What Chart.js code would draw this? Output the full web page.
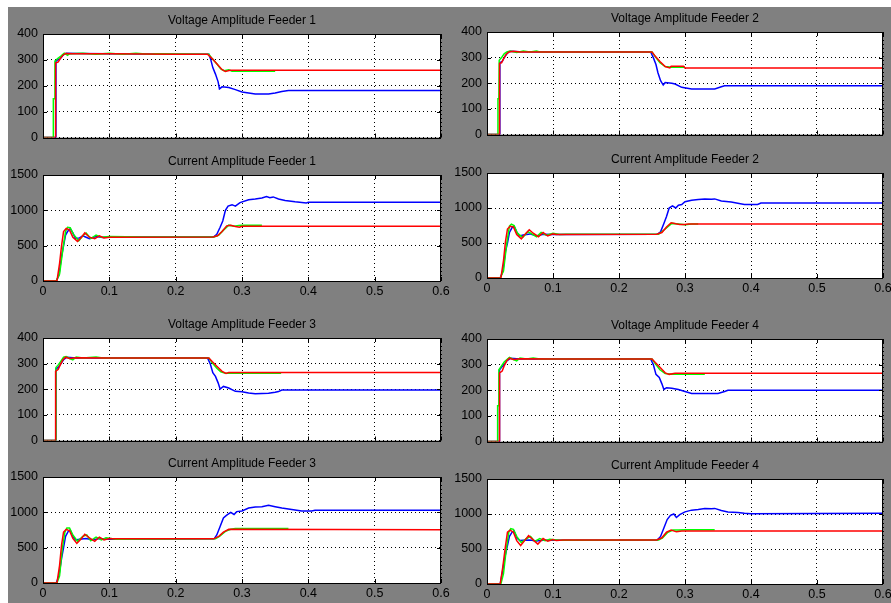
<!DOCTYPE html>
<html>
<head>
<meta charset="utf-8">
<script src="https://cdn.jsdelivr.net/npm/chart.js@4.4.1/dist/chart.umd.min.js"></script>
<style>
html, body { margin: 0; padding: 0; background: #fff; overflow: hidden; }
#bg { position: absolute; left: 8px; top: 7px; width: 883px; height: 596px; background: #808080; }
canvas { position: absolute; }
</style>
</head>
<body>
<div id="bg"></div>
<script>
// Time [s] / amplitude pairs
const v1Blue = [[0,0],[0.019,0],[0.0195,295],[0.022,300],[0.026,305],[0.03,318],[0.035,326],[0.05,325],[0.1,324],[0.15,323],[0.2,322],[0.25,322],[0.253,300],[0.256,270],[0.26,245],[0.264,215],[0.266,188],[0.27,196],[0.28,193],[0.29,185],[0.3,176],[0.31,172],[0.32,168],[0.34,168],[0.35,172],[0.36,178],[0.37,182],[0.6,182]];
const v1Green = [[0,0],[0.0155,0],[0.0156,150],[0.0175,150],[0.018,295],[0.022,305],[0.027,315],[0.032,326],[0.037,318],[0.04,324],[0.06,326],[0.08,322],[0.1,326],[0.12,322],[0.14,326],[0.16,322],[0.17,324],[0.25,322],[0.255,305],[0.262,285],[0.268,265],[0.273,258],[0.28,262],[0.285,256],[0.3,256],[0.35,256]];
const v1Red = [[0,0],[0.0185,0],[0.019,288],[0.023,292],[0.026,305],[0.03,318],[0.034,325],[0.045,324],[0.1,324],[0.2,322],[0.248,322],[0.255,305],[0.262,285],[0.27,262],[0.275,255],[0.282,260],[0.6,260]];

const c1Blue = [[0,0],[0.02,0],[0.024,80],[0.028,350],[0.031,500],[0.034,650],[0.037,700],[0.041,740],[0.045,680],[0.049,600],[0.055,610],[0.06,640],[0.065,620],[0.07,600],[0.08,630],[0.09,615],[0.1,625],[0.15,622],[0.257,622],[0.262,660],[0.267,760],[0.271,850],[0.275,1000],[0.279,1060],[0.285,1080],[0.29,1060],[0.297,1110],[0.31,1150],[0.32,1160],[0.33,1175],[0.337,1195],[0.342,1180],[0.347,1190],[0.355,1160],[0.365,1140],[0.38,1120],[0.397,1105],[0.4,1115],[0.6,1115]];
const c1Green = [[0,0],[0.02,0],[0.025,100],[0.03,450],[0.034,700],[0.037,760],[0.041,755],[0.046,660],[0.054,570],[0.06,640],[0.065,680],[0.072,600],[0.08,650],[0.088,620],[0.1,630],[0.15,622],[0.258,622],[0.265,650],[0.272,720],[0.28,790],[0.288,775],[0.295,785],[0.3,790],[0.33,790]];
const c1Red = [[0,0],[0.021,0],[0.025,250],[0.028,500],[0.031,700],[0.035,745],[0.04,720],[0.045,620],[0.052,560],[0.058,620],[0.063,680],[0.07,620],[0.078,600],[0.085,640],[0.092,610],[0.1,620],[0.256,622],[0.263,640],[0.27,700],[0.277,780],[0.283,790],[0.29,770],[0.296,760],[0.3,775],[0.6,775]];

const v2Blue = [[0,0],[0.019,0],[0.0195,280],[0.023,285],[0.026,300],[0.03,315],[0.035,325],[0.05,323],[0.1,322],[0.248,322],[0.252,300],[0.256,273],[0.259,241],[0.263,210],[0.267,193],[0.27,203],[0.28,200],[0.285,197],[0.295,184],[0.31,178],[0.345,178],[0.355,186],[0.36,190],[0.6,190]];
const v2Green = [[0,0],[0.0165,0],[0.0166,140],[0.018,140],[0.0185,290],[0.022,300],[0.026,315],[0.03,322],[0.035,326],[0.045,320],[0.055,326],[0.065,322],[0.075,326],[0.08,322],[0.25,322],[0.256,300],[0.262,280],[0.27,265],[0.28,262],[0.3,262]];
const v2Red = [[0,0],[0.0185,0],[0.019,278],[0.022,280],[0.025,295],[0.029,312],[0.033,322],[0.04,325],[0.05,322],[0.25,322],[0.255,305],[0.262,285],[0.27,265],[0.277,260],[0.279,266],[0.298,266],[0.3,260],[0.6,260]];

const c2Blue = [[0,0],[0.02,0],[0.024,100],[0.028,380],[0.031,500],[0.034,650],[0.038,720],[0.041,740],[0.045,660],[0.049,600],[0.055,615],[0.065,630],[0.075,600],[0.085,625],[0.1,620],[0.258,625],[0.263,660],[0.268,780],[0.272,880],[0.276,1000],[0.281,1030],[0.286,1000],[0.29,1040],[0.295,1050],[0.3,1090],[0.31,1110],[0.32,1120],[0.33,1130],[0.34,1125],[0.345,1130],[0.355,1100],[0.37,1085],[0.39,1050],[0.41,1050],[0.415,1070],[0.6,1070]];
const c2Green = [[0,0],[0.02,0],[0.025,100],[0.03,500],[0.034,740],[0.037,770],[0.041,750],[0.046,640],[0.054,580],[0.062,660],[0.068,630],[0.075,590],[0.082,650],[0.09,610],[0.1,640],[0.11,620],[0.12,625],[0.26,625],[0.27,700],[0.28,780],[0.29,770],[0.3,760],[0.31,770],[0.32,770]];
const c2Red = [[0,0],[0.021,0],[0.025,250],[0.028,520],[0.031,700],[0.035,740],[0.04,730],[0.045,620],[0.052,560],[0.058,630],[0.064,690],[0.07,640],[0.078,590],[0.085,650],[0.092,600],[0.1,630],[0.105,620],[0.257,625],[0.265,650],[0.272,730],[0.279,790],[0.286,775],[0.292,765],[0.3,765],[0.305,770],[0.6,770]];

const v3Blue = [[0,0],[0.019,0],[0.0195,280],[0.023,285],[0.027,300],[0.031,315],[0.036,325],[0.05,322],[0.1,322],[0.248,322],[0.252,300],[0.256,265],[0.26,250],[0.264,225],[0.267,201],[0.272,211],[0.28,205],[0.29,192],[0.3,190],[0.31,185],[0.32,182],[0.34,184],[0.35,188],[0.355,191],[0.36,197],[0.6,197]];
const v3Green = [[0,0],[0.019,0],[0.0195,285],[0.023,295],[0.027,310],[0.031,325],[0.035,328],[0.04,320],[0.045,315],[0.05,326],[0.06,322],[0.08,326],[0.09,322],[0.25,322],[0.256,300],[0.262,282],[0.268,268],[0.275,262],[0.3,262],[0.359,262]];
const v3Red = [[0,0],[0.0185,0],[0.019,270],[0.023,278],[0.026,295],[0.03,315],[0.034,325],[0.04,320],[0.05,323],[0.1,322],[0.25,322],[0.255,308],[0.262,290],[0.27,270],[0.276,262],[0.28,265],[0.6,265]];

const c3Blue = [[0,0],[0.02,0],[0.024,100],[0.028,350],[0.031,500],[0.034,660],[0.038,730],[0.041,750],[0.045,660],[0.049,610],[0.055,620],[0.065,630],[0.075,610],[0.085,630],[0.1,620],[0.258,625],[0.262,680],[0.267,800],[0.272,920],[0.277,960],[0.283,1000],[0.288,970],[0.292,1010],[0.3,1020],[0.31,1060],[0.32,1075],[0.33,1080],[0.34,1100],[0.35,1080],[0.36,1060],[0.375,1040],[0.39,1020],[0.405,1020],[0.41,1030],[0.6,1030]];
const c3Green = [[0,0],[0.021,0],[0.025,100],[0.029,480],[0.033,720],[0.036,780],[0.04,780],[0.045,680],[0.052,590],[0.06,660],[0.066,680],[0.072,600],[0.08,650],[0.088,610],[0.095,640],[0.11,620],[0.26,625],[0.266,660],[0.275,730],[0.283,760],[0.29,770],[0.3,770],[0.37,770]];
const c3Red = [[0,0],[0.021,0],[0.025,250],[0.028,540],[0.031,720],[0.035,760],[0.04,740],[0.045,630],[0.051,560],[0.057,620],[0.063,690],[0.07,640],[0.078,590],[0.085,650],[0.092,610],[0.1,630],[0.105,625],[0.257,625],[0.265,660],[0.272,720],[0.28,760],[0.6,755]];

const v4Blue = [[0,0],[0.0185,0],[0.019,280],[0.022,290],[0.026,300],[0.03,315],[0.036,325],[0.05,322],[0.1,322],[0.248,322],[0.252,300],[0.256,262],[0.261,250],[0.265,225],[0.268,203],[0.272,210],[0.28,208],[0.29,203],[0.3,195],[0.31,187],[0.35,187],[0.36,195],[0.365,200],[0.6,200]];
const v4Green = [[0,0],[0.016,0],[0.0161,140],[0.0175,140],[0.018,280],[0.022,295],[0.026,310],[0.031,322],[0.034,328],[0.04,320],[0.045,315],[0.05,326],[0.06,322],[0.07,326],[0.08,322],[0.25,322],[0.256,300],[0.262,280],[0.27,265],[0.28,262],[0.33,262]];
const v4Red = [[0,0],[0.0185,0],[0.019,268],[0.023,275],[0.026,295],[0.03,315],[0.034,325],[0.04,320],[0.05,323],[0.1,322],[0.25,322],[0.255,308],[0.262,290],[0.27,268],[0.276,262],[0.285,266],[0.6,266]];

const c4Blue = [[0,0],[0.02,0],[0.023,150],[0.027,380],[0.031,550],[0.034,680],[0.038,740],[0.041,760],[0.045,660],[0.05,620],[0.055,625],[0.065,630],[0.075,615],[0.085,625],[0.1,625],[0.258,628],[0.263,680],[0.268,800],[0.273,920],[0.278,980],[0.283,1000],[0.287,950],[0.292,990],[0.3,1030],[0.31,1055],[0.32,1065],[0.33,1078],[0.34,1075],[0.345,1080],[0.355,1050],[0.365,1030],[0.38,1020],[0.39,1010],[0.4,1005],[0.6,1010]];
const c4Green = [[0,0],[0.021,0],[0.025,150],[0.029,480],[0.033,740],[0.036,790],[0.04,780],[0.045,680],[0.052,590],[0.06,650],[0.066,680],[0.072,610],[0.08,650],[0.088,620],[0.095,640],[0.11,625],[0.26,628],[0.266,660],[0.274,740],[0.282,770],[0.29,770],[0.3,776],[0.345,776]];
const c4Red = [[0,0],[0.02,0],[0.024,250],[0.028,540],[0.031,740],[0.035,770],[0.04,740],[0.045,620],[0.051,550],[0.057,620],[0.063,690],[0.07,630],[0.077,570],[0.085,650],[0.092,610],[0.1,635],[0.105,620],[0.115,628],[0.257,628],[0.265,660],[0.272,740],[0.279,770],[0.287,745],[0.295,757],[0.6,757]];

// Panels: plot box = [left, top, right, bottom] in page pixels
const panels = [
    { title: 'Voltage Amplitude Feeder 1', box: [43, 34, 441, 140], yMax: 400, yStep: 100, xLabels: false, blue: v1Blue, green: v1Green, red: v1Red },
    { title: 'Current Amplitude Feeder 1', box: [43, 175, 441, 281], yMax: 1500, yStep: 500, xLabels: true, blue: c1Blue, green: c1Green, red: c1Red },
    { title: 'Voltage Amplitude Feeder 2', box: [487, 32, 883, 137], yMax: 400, yStep: 100, xLabels: false, blue: v2Blue, green: v2Green, red: v2Red },
    { title: 'Current Amplitude Feeder 2', box: [487, 173, 883, 278], yMax: 1500, yStep: 500, xLabels: true, blue: c2Blue, green: c2Green, red: c2Red },
    { title: 'Voltage Amplitude Feeder 3', box: [43, 338, 441, 443], yMax: 400, yStep: 100, xLabels: false, blue: v3Blue, green: v3Green, red: v3Red },
    { title: 'Current Amplitude Feeder 3', box: [43, 477, 441, 583], yMax: 1500, yStep: 500, xLabels: true, blue: c3Blue, green: c3Green, red: c3Red },
    { title: 'Voltage Amplitude Feeder 4', box: [487, 339, 883, 444], yMax: 400, yStep: 100, xLabels: false, blue: v4Blue, green: v4Green, red: v4Red },
    { title: 'Current Amplitude Feeder 4', box: [487, 479, 883, 584], yMax: 1500, yStep: 500, xLabels: true, blue: c4Blue, green: c4Green, red: c4Red }
];

Chart.defaults.font.family = '"Liberation Sans", Arial, sans-serif';
Chart.defaults.color = '#000';

// White plot area, frame, inward ticks and title drawn like a scope axes
const scopeFrame = {
    id: 'scopeFrame',
    beforeDraw(chart) {
        const ctx = chart.ctx;
        const a = chart.chartArea;
        ctx.save();
        ctx.fillStyle = '#fff';
        ctx.fillRect(a.left, a.top, a.right - a.left, a.bottom - a.top);
        ctx.restore();
    },
    afterDraw(chart, args, opts) {
        const ctx = chart.ctx;
        const a = chart.chartArea;
        ctx.save();
        ctx.strokeStyle = '#000';
        ctx.lineWidth = 1;
        ctx.strokeRect(Math.round(a.left) + 0.5, Math.round(a.top) + 0.5, Math.round(a.right - a.left) - 1, Math.round(a.bottom - a.top));
        ctx.beginPath();
        chart.scales.x.ticks.forEach(t => {
            const px = Math.round(chart.scales.x.getPixelForValue(t.value)) + 0.5;
            ctx.moveTo(px, a.bottom); ctx.lineTo(px, a.bottom - 4);
            ctx.moveTo(px, a.top); ctx.lineTo(px, a.top + 4);
        });
        chart.scales.y.ticks.forEach(t => {
            const py = Math.round(chart.scales.y.getPixelForValue(t.value)) + 0.5;
            ctx.moveTo(a.left, py); ctx.lineTo(a.left + 4, py);
            ctx.moveTo(a.right, py); ctx.lineTo(a.right - 4, py);
        });
        ctx.stroke();
        ctx.fillStyle = '#000';
        ctx.font = '12px "Liberation Sans", Arial, sans-serif';
        ctx.textAlign = 'center';
        ctx.textBaseline = 'middle';
        ctx.fillText(opts.text, (a.left + a.right) / 2, a.top - 13);
        ctx.restore();
    }
};

function toPoints(pairs) {
    return pairs.map(p => ({ x: p[0], y: p[1] }));
}

function makePanel(p) {
    const L = 43, T = 22, R = 12;
    const B = p.xLabels ? 20 : 10;
    const w = p.box[2] - p.box[0] + L + R;
    const h = p.box[3] - p.box[1] + T + B;
    const canvas = document.createElement('canvas');
    canvas.width = w;
    canvas.height = h;
    canvas.style.left = (p.box[0] - L) + 'px';
    canvas.style.top = (p.box[1] - T) + 'px';
    canvas.style.width = w + 'px';
    canvas.style.height = h + 'px';
    document.body.appendChild(canvas);

    const line = (data, color) => ({
        data: toPoints(data),
        borderColor: color,
        borderWidth: 1.5,
        pointRadius: 0,
        tension: 0,
        fill: false
    });

    new Chart(canvas.getContext('2d'), {
        type: 'line',
        data: {
            // first dataset is drawn on top
            datasets: [line(p.red, '#ff0000'), line(p.green, '#00ff00'), line(p.blue, '#0000ff')]
        },
        options: {
            responsive: false,
            animation: false,
            devicePixelRatio: 1,
            layout: { padding: { top: T, right: R, left: 0, bottom: 0 } },
            plugins: {
                legend: { display: false },
                tooltip: { enabled: false },
                scopeFrame: { text: p.title }
            },
            scales: {
                x: {
                    type: 'linear',
                    min: 0,
                    max: 0.6,
                    ticks: {
                        stepSize: 0.1,
                        display: p.xLabels,
                        padding: 3,
                        font: { size: 12.5 },
                        callback: v => v === 0 ? '0' : v.toFixed(1)
                    },
                    grid: { color: '#000', lineWidth: 1, drawTicks: false },
                    border: { display: false, dash: [1, 3] },
                    afterFit: s => { s.height = B; }
                },
                y: {
                    min: 0,
                    max: p.yMax,
                    ticks: {
                        stepSize: p.yStep,
                        padding: 5,
                        font: { size: 12.5 },
                        callback: v => String(v)
                    },
                    grid: { color: '#000', lineWidth: 1, drawTicks: false },
                    border: { display: false, dash: [1, 3] },
                    afterFit: s => { s.width = L; }
                }
            }
        },
        plugins: [scopeFrame]
    });
}

panels.forEach(makePanel);
</script>
</body>
</html>
